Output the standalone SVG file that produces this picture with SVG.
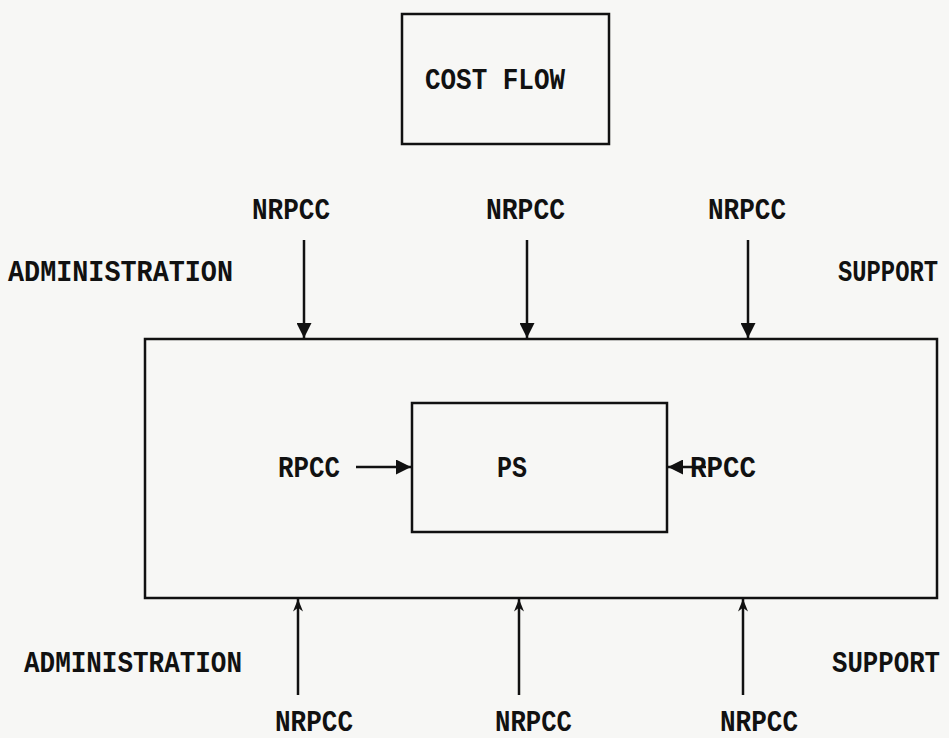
<svg xmlns="http://www.w3.org/2000/svg" width="949" height="738" viewBox="0 0 949 738">
<defs>
<marker id="ah" viewBox="0 0 10 10" refX="10" refY="5" markerWidth="6" markerHeight="6" markerUnits="strokeWidth" orient="auto">
<path d="M0,0 L10,5 L0,10 z" fill="#111"/>
</marker>
<marker id="ahs" viewBox="0 0 10 10" refX="10" refY="5" markerWidth="5" markerHeight="5" markerUnits="strokeWidth" orient="auto">
<path d="M0,1 L10,5 L0,9 L3,5 z" fill="#111"/>
</marker>
<style>
.box{fill:none;stroke:#111;stroke-width:2.5}
.t{font-family:"Liberation Mono","DejaVu Sans Mono",monospace;font-weight:bold;font-size:26px;fill:#111}
.c{stroke:#111;stroke-width:2.5;fill:none}
</style>
</defs>
<rect width="949" height="738" fill="#f7f7f5"/>
<g id="costflow">
<rect class="box" x="402" y="14" width="207" height="130"/>
<text class="t" transform="translate(425,89) scale(1,1.15)" textLength="140" lengthAdjust="spacingAndGlyphs">COST FLOW</text>
</g>
<g id="outer">
<rect class="box" x="145" y="339" width="792" height="259"/>
</g>
<g id="ps">
<rect class="box" x="412" y="403" width="255" height="129"/>
<text class="t" transform="translate(497,477) scale(1,1.15)" textLength="30" lengthAdjust="spacingAndGlyphs">PS</text>
</g>
<g id="labels">
<text class="t" transform="translate(252,219) scale(1,1.15)" textLength="78" lengthAdjust="spacingAndGlyphs">NRPCC</text>
<text class="t" transform="translate(486,219) scale(1,1.15)" textLength="79" lengthAdjust="spacingAndGlyphs">NRPCC</text>
<text class="t" transform="translate(708,219) scale(1,1.15)" textLength="78" lengthAdjust="spacingAndGlyphs">NRPCC</text>
<text class="t" transform="translate(8,281) scale(1,1.15)" textLength="225" lengthAdjust="spacingAndGlyphs">ADMINISTRATION</text>
<text class="t" transform="translate(838,281) scale(1,1.15)" textLength="100" lengthAdjust="spacingAndGlyphs">SUPPORT</text>
<text class="t" transform="translate(278,477) scale(1,1.15)" textLength="62" lengthAdjust="spacingAndGlyphs">RPCC</text>
<text class="t" transform="translate(690,477) scale(1,1.15)" textLength="66" lengthAdjust="spacingAndGlyphs">RPCC</text>
<text class="t" transform="translate(24,672) scale(1,1.15)" textLength="218" lengthAdjust="spacingAndGlyphs">ADMINISTRATION</text>
<text class="t" transform="translate(832,672) scale(1,1.15)" textLength="108" lengthAdjust="spacingAndGlyphs">SUPPORT</text>
<text class="t" transform="translate(275,731) scale(1,1.15)" textLength="78" lengthAdjust="spacingAndGlyphs">NRPCC</text>
<text class="t" transform="translate(495,731) scale(1,1.15)" textLength="77" lengthAdjust="spacingAndGlyphs">NRPCC</text>
<text class="t" transform="translate(720,731) scale(1,1.15)" textLength="78" lengthAdjust="spacingAndGlyphs">NRPCC</text>
</g>
<g id="connectors">
<line class="c" x1="304" y1="240" x2="304" y2="338" marker-end="url(#ah)"/>
<line class="c" x1="527" y1="240" x2="527" y2="338" marker-end="url(#ah)"/>
<line class="c" x1="748" y1="240" x2="748" y2="338" marker-end="url(#ah)"/>
<line class="c" x1="356" y1="467" x2="411" y2="467" marker-end="url(#ah)"/>
<line class="c" x1="706" y1="467" x2="668" y2="467" marker-end="url(#ah)"/>
<line class="c" x1="298" y1="695" x2="298" y2="599" marker-end="url(#ahs)"/>
<line class="c" x1="519" y1="695" x2="519" y2="599" marker-end="url(#ahs)"/>
<line class="c" x1="743" y1="695" x2="743" y2="599" marker-end="url(#ahs)"/>
</g>
</svg>
